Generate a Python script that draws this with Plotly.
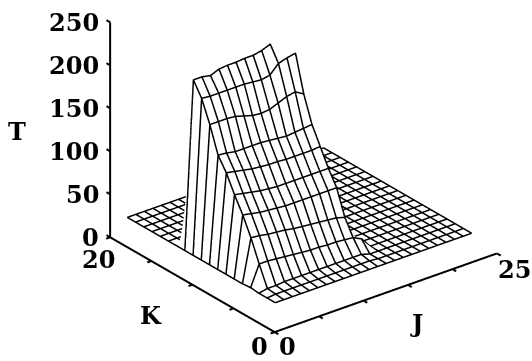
import numpy as np
import plotly.graph_objects as go

j_values = [1 + 0.96 * n for n in range(24)]
k_values = list(range(1, 20))

t_floor = [25] * 24
t_k1 = [25] * 24
t_k2 = [25, 26, 26, 26, 26, 26, 26, 26, 26, 26, 26, 26, 26] + [25] * 11
t_k3 = [25, 27, 27, 28, 28, 28, 28, 28, 28, 28, 28, 28, 28] + [25] * 11
t_k4 = [26, 50, 50, 49, 48, 47, 46, 45, 45, 44, 44, 43, 42, 37] + [25] * 10
t_k5 = [25, 75, 74, 72, 71, 70, 68, 67, 66, 65, 64, 63, 60] + [25] * 11
t_k6 = [25, 96, 94, 92, 91, 90, 89, 89, 89, 89, 89, 89, 89] + [25] * 11
t_k7 = [25, 114, 112, 110, 108, 107, 106, 106, 106, 106, 106, 106, 106] + [25] * 11
t_k8 = [25, 134, 132, 130, 128, 127, 126, 126, 125, 125, 125, 125, 126] + [25] * 11
t_k9 = [25, 149, 148, 146, 146, 146, 146, 145, 144, 143, 144, 145, 146] + [25] * 11
t_k10 = [25, 179, 179, 179, 178, 175, 172, 171, 172, 176, 180, 182, 176] + [25] * 11
t_k11 = [25, 204, 203, 203, 203, 203, 203, 202, 201, 203, 213, 216, 218] + [25] * 11
t_k12 = [25, 220, 220, 218, 222, 223, 223, 224, 224, 226, 230, 25, 25] + [25] * 11

t_rows = [t_k1, t_k2, t_k3, t_k4, t_k5, t_k6, t_k7, t_k8, t_k9, t_k10, t_k11, t_k12,
          t_floor, t_floor, t_floor, t_floor, t_floor, t_floor, t_floor]

t_ticks = [0, 50, 100, 150, 200, 250]
j_ticks = [0, 5, 10, 15, 20, 25]
k_ticks = [0, 5, 10, 15, 20]

FONT = dict(family="DejaVu Serif", size=24, color="black")
GRID_WIDTH = 3
AXIS_WIDTH = 4
TICK = 0.45


def add_path(xs, ys, zs, width):
    fig.add_trace(
        go.Scatter3d(
            x=xs, y=ys, z=zs, mode="lines", hoverinfo="skip", showlegend=False,
            line=dict(color="black", width=width),
        )
    )


def tick_note(text, x, y, z, xshift=0, yshift=0, anchor="center"):
    return dict(
        x=x, y=y, z=z, text=f"<b>{text}</b>", showarrow=False, font=FONT,
        xanchor=anchor, xshift=xshift, yshift=yshift,
    )


fig = go.Figure()

# white sheet sits a hair behind the wire lines so it only hides what is behind it
fig.add_trace(
    go.Surface(
        x=np.array(j_values) + 0.06,
        y=np.array(k_values) + 0.06,
        z=np.array(t_rows) - 1.0,
        colorscale=[[0, "white"], [1, "white"]],
        showscale=False,
        hoverinfo="skip",
        lighting=dict(ambient=1, diffuse=0, specular=0, fresnel=0, roughness=1),
    )
)

for row_index, k in enumerate(k_values):
    add_path(j_values, [k] * len(j_values), t_rows[row_index], GRID_WIDTH)
for col_index, j in enumerate(j_values):
    add_path([j] * len(k_values), k_values, [row[col_index] for row in t_rows], GRID_WIDTH)

# axes and their small tick nubs
add_path([0, 25], [0, 0], [0, 0], AXIS_WIDTH)
add_path([0, 0], [0, 20], [0, 0], AXIS_WIDTH)
add_path([0, 0], [20, 20], [0, 250], AXIS_WIDTH)
for j in j_ticks:
    add_path([j, j], [0, -TICK], [0, 0], AXIS_WIDTH)
for k in k_ticks:
    add_path([0, -TICK], [k, k], [0, 0], AXIS_WIDTH)
for t in t_ticks:
    add_path([0, 0], [20, 20 + TICK], [t, t], AXIS_WIDTH)

notes = [tick_note(str(t), 0, 20, t, xshift=-9, anchor="right") for t in t_ticks]
notes += [
    tick_note("20", 0, 20, 0, xshift=-12, yshift=-22),
    tick_note("0", 0, 0, 0, xshift=-15, yshift=-14),
    tick_note("0", 0, 0, 0, xshift=13, yshift=-14),
    tick_note("25", 25, 0, 0, xshift=18, yshift=-16),
    tick_note("K", 0, 10, 0, xshift=-41, yshift=-31),
    tick_note("J", 12.5, 0, 0, xshift=31, yshift=-31),
    tick_note("T", 0, 20, 125, xshift=-93, yshift=-2),
]

axis_style = dict(
    showbackground=False, showgrid=False, zeroline=False, showspikes=False,
    showticklabels=False, showline=False, ticks="", title=dict(text=""),
)

cam_dir = np.array([-0.550, -0.702, 0.4515])
cam_center = np.array([-0.154, 0.121, -0.26])
cam_eye = cam_center + cam_dir * 1.0

fig.update_layout(
    width=532,
    height=361,
    margin=dict(l=0, r=0, t=0, b=0),
    paper_bgcolor="white",
    showlegend=False,
    scene=dict(
        xaxis=dict(axis_style, range=[-0.5, 25]),
        yaxis=dict(axis_style, range=[-0.5, 20.5]),
        zaxis=dict(axis_style, range=[0, 250]),
        aspectmode="manual",
        aspectratio=dict(x=1.596, y=1.551, z=1.335),
        camera=dict(
            projection=dict(type="orthographic"),
            up=dict(x=0, y=0, z=1),
            center=dict(x=cam_center[0], y=cam_center[1], z=cam_center[2]),
            eye=dict(x=cam_eye[0], y=cam_eye[1], z=cam_eye[2]),
        ),
        annotations=notes,
    ),
)

# the page's default body margin would push the 532x361 figure out of the window
fig.write_html(
    "out.html",
    config={"displayModeBar": False},
    post_script="document.body.style.margin = '0';",
)
